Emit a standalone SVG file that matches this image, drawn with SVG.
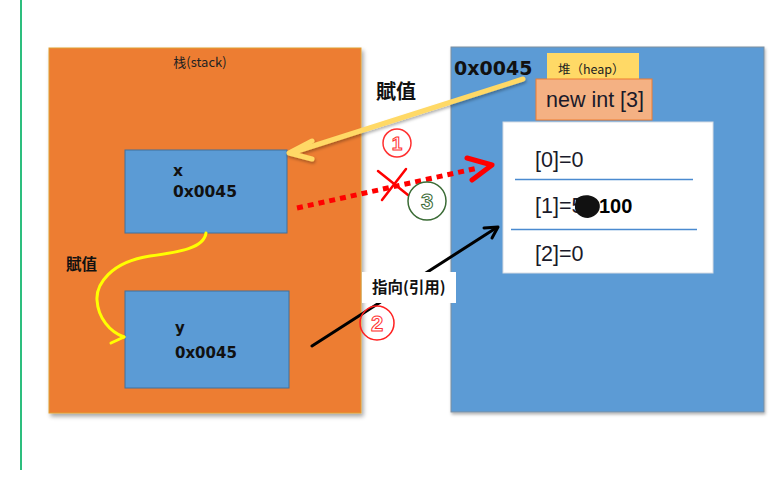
<svg xmlns="http://www.w3.org/2000/svg" width="781" height="499" viewBox="0 0 781 499">
<defs>
<filter id="sh" x="-10%" y="-10%" width="130%" height="130%">
<feDropShadow dx="2" dy="3" stdDeviation="2" flood-color="#000" flood-opacity="0.35"/>
</filter>
<filter id="sh2" x="-10%" y="-20%" width="130%" height="150%">
<feDropShadow dx="1" dy="2" stdDeviation="1.5" flood-color="#000" flood-opacity="0.3"/>
</filter>
</defs>
<style>
.cjk{font-family:"Noto Sans CJK SC","Noto Sans",sans-serif;}
.mono{font-family:"DejaVu Sans",sans-serif;font-weight:bold;fill:#111;}
.arr{font-family:"Liberation Sans",Arial,sans-serif;font-size:21.5px;fill:#1a1a2a;}
.blue{fill:#5B9BD5;}
.circ{fill:none;stroke-width:1.5;}
.num{font-family:"Liberation Sans",Arial,sans-serif;font-weight:bold;stroke-width:1;text-anchor:middle;}
</style>
<rect width="781" height="499" fill="#fff"/>
<line x1="21" y1="0" x2="21" y2="470" stroke="#2DBE7E" stroke-width="2"/>

<g id="stack">
<rect x="49" y="48" width="312" height="365" fill="#ED7D31" stroke="#E0A030" stroke-width="1" filter="url(#sh)"/>
<text x="200" y="67" class="cjk" font-size="13" text-anchor="middle" fill="#222">栈(stack)</text>
</g>

<g id="box-x">
<rect x="125" y="150" width="162" height="83" class="blue" stroke="#41719C" stroke-width="1"/>
<text x="173" y="176" class="mono" font-size="15.5">x</text>
<text x="173" y="197" class="mono" font-size="15.5">0x0045</text>
</g>

<g id="box-y">
<rect x="125" y="291" width="164" height="97" class="blue" stroke="#41719C" stroke-width="1"/>
<text x="175" y="333" class="mono" font-size="15">y</text>
<text x="175" y="358" class="mono" font-size="15">0x0045</text>
</g>

<g id="heap">
<rect x="451" y="47" width="313" height="365" class="blue" stroke="#7F8FA0" stroke-width="1" filter="url(#sh2)"/>
<text x="454" y="75" class="mono" font-size="19">0x0045</text>
</g>

<g id="heap-label">
<rect x="547" y="53" width="92" height="27" fill="#FFD966"/>
<text x="558" y="74" class="cjk" font-size="12.5" fill="#222">堆（heap）</text>
</g>

<g id="new-int">
<rect x="536" y="79" width="116" height="41" fill="#F4B183" stroke="#ED7D31" stroke-width="1"/>
<text x="546" y="107" class="arr" font-size="22">new int [3]</text>
</g>

<g id="array">
<rect x="503" y="122" width="210" height="151" fill="#fff" stroke="#D6DCE4" stroke-width="1"/>
<line x1="515" y1="179.5" x2="693" y2="179.5" stroke="#4A8AD0" stroke-width="1.3"/>
<line x1="511" y1="229.5" x2="697" y2="229.5" stroke="#4A8AD0" stroke-width="1.3"/>
<text x="535" y="167" class="arr">[0]=0</text>
<text x="535" y="213" class="arr">[1]=5</text>
<path d="M576,199 C582,193 595,194 599,202 C602,209 597,217 588,218 C580,218 574,212 575,206 C575,203 576,200 576,199 Z" fill="#111"/>
<text x="599" y="213" font-family="Liberation Sans,Arial,sans-serif" font-weight="bold" font-size="20" fill="#000">100</text>
<text x="535" y="261" class="arr">[2]=0</text>
</g>

<g id="connectors" fill="none" stroke-linecap="round" stroke-linejoin="round">
<path d="M206,233 C204,248 180,252 150,256 C110,262 96,285 97,300 C98,318 110,332 124,337" stroke="#FFFF00" stroke-width="3"/>
<path d="M124,337 L111,343" stroke="#FFFF00" stroke-width="3"/>
<g filter="url(#sh2)">
<line x1="523" y1="79" x2="291" y2="153" stroke="#FFD966" stroke-width="5"/>
<polyline points="312,141 289,153 312,159" stroke="#FFD966" stroke-width="5"/>
</g>
<line x1="297" y1="208" x2="478" y2="168" stroke="#FF0000" stroke-width="5" stroke-dasharray="6 5" stroke-linecap="butt"/>
<polyline points="467,158 492,165 472,180" stroke="#FF0000" stroke-width="5"/>
<line x1="378" y1="171" x2="408" y2="195" stroke="#FF0000" stroke-width="2.5"/>
<line x1="406" y1="169" x2="382" y2="200" stroke="#FF0000" stroke-width="2.5"/>
<line x1="312" y1="346" x2="496" y2="228" stroke="#000" stroke-width="3"/>
<polyline points="484,228 498,227 492,238" stroke="#000" stroke-width="3"/>
</g>

<g id="label-point">
<rect x="362" y="272" width="94" height="31" fill="#fff"/>
<text x="372" y="293" class="cjk" font-size="15.5" font-weight="bold" fill="#111">指向(引用)</text>
</g>

<g id="label-assign-top">
<text x="376" y="99" class="cjk" font-size="20" font-weight="bold" fill="#111">賦值</text>
</g>
<g id="label-assign-left">
<text x="66" y="270" class="cjk" font-size="15.5" font-weight="bold" fill="#111">賦值</text>
</g>

<g id="step1">
<circle cx="397" cy="143" r="14" class="circ" stroke="#FF3030"/>
<text x="397" y="150" class="num" font-size="19" fill="#fff" stroke="#FF3030">1</text>
</g>
<g id="step2">
<circle cx="377" cy="323" r="17" class="circ" stroke="#FF2020"/>
<text x="377" y="331" class="num" font-size="22" fill="#fff" stroke="#FF3030">2</text>
</g>
<g id="step3">
<circle cx="427" cy="201" r="19" class="circ" stroke="#3A6B35"/>
<text x="427" y="209" class="num" font-size="22" fill="#fff" stroke="#3A6B35">3</text>
</g>
</svg>
